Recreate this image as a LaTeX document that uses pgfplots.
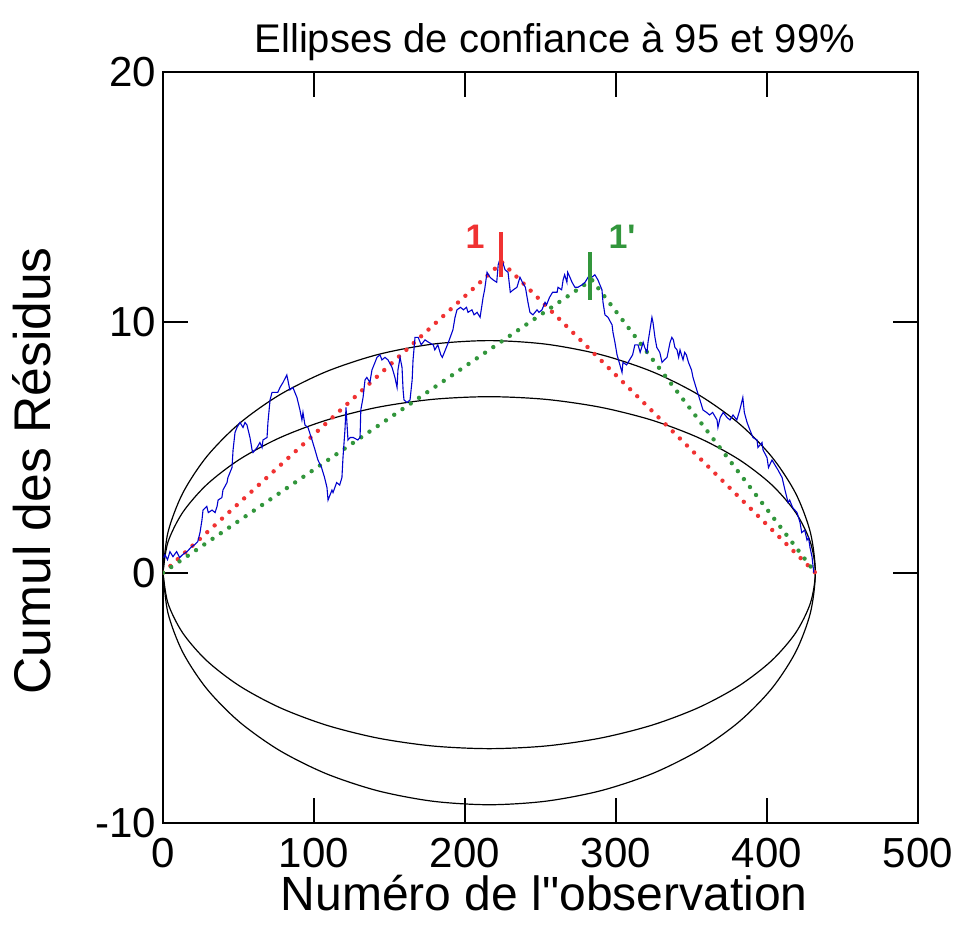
\documentclass[border=0pt]{standalone}
\usepackage{fontspec}
\setmainfont{Liberation Sans}[Ligatures=TeXOff]
\usepackage{pgfplots}
\pgfplotsset{compat=1.18}
\definecolor{cblue}{RGB}{0,0,205}
\definecolor{cred}{RGB}{240,50,50}
\definecolor{cgreen}{RGB}{50,150,60}
\begin{document}
\begin{tikzpicture}
\useasboundingbox (-81.5pt,-55.5pt) rectangle (395pt,411.5pt);
\begin{axis}[
  scale only axis, width=377.5pt, height=375.5pt,
  at={(0,0)}, anchor=south west,
  xmin=0, xmax=500, ymin=-10, ymax=20,
  xtick={0,100,200,300,400,500}, ytick={-10,0,10,20},
  tick pos=both, tick align=inside,
  major tick length=12.5pt,
  axis line style={line width=1pt},
  every tick/.style={black, line width=1pt},
  /pgf/number format/assume math mode=true,
  tick label style={font=\fontsize{21}{24}\selectfont},
  xticklabel style={yshift=-4pt},
  title={Ellipses de confiance à 95 et 99\%},
  title style={font=\fontsize{20}{24}\selectfont, at={(rel axis cs:0.519,1)}, anchor=center, yshift=9pt},
  xlabel={Numéro de l"observation},
  xlabel style={font=\fontsize{24}{28}\selectfont, at={(rel axis cs:0.505,0)}, anchor=center, yshift=-35pt},
  ylabel={Cumul des Résidus},
  ylabel style={font=\fontsize{25.8}{30}\selectfont, at={(rel axis cs:0,0.469)}, anchor=center, yshift=65.5pt},
]
% outer ellipse
\addplot[black, line width=0.6pt, smooth] coordinates {
(0,0) (3.28,1.609) (13.02,3.170) (28.94,4.635) (50.54,5.959) (77.16,7.101) (108,8.028) (142.13,8.711) (178.50,9.129) (216,9.27)
(253.50,9.129) (289.87,8.711) (324,8.028) (354.84,7.101) (381.46,5.959) (403.06,4.635) (418.98,3.170) (428.72,1.609) (432,0)
(428.72,-1.609) (418.98,-3.170) (403.06,-4.635) (381.46,-5.959) (354.84,-7.101) (324,-8.028) (289.87,-8.711) (253.50,-9.129) (216,-9.27)
(178.50,-9.129) (142.13,-8.711) (108,-8.028) (77.16,-7.101) (50.54,-5.959) (28.94,-4.635) (13.02,-3.170) (3.28,-1.609) (0,0)
};
% inner ellipse
\addplot[black, line width=0.6pt, smooth] coordinates {
(0,0) (3.28,1.220) (13.02,2.404) (28.94,3.515) (50.54,4.519) (77.16,5.385) (108,6.088) (142.13,6.606) (178.50,6.923) (216,7.03)
(253.50,6.923) (289.87,6.606) (324,6.088) (354.84,5.385) (381.46,4.519) (403.06,3.515) (418.98,2.404) (428.72,1.220) (432,0)
(428.72,-1.220) (418.98,-2.404) (403.06,-3.515) (381.46,-4.519) (354.84,-5.385) (324,-6.088) (289.87,-6.606) (253.50,-6.923) (216,-7.03)
(178.50,-6.923) (142.13,-6.606) (108,-6.088) (77.16,-5.385) (50.54,-4.519) (28.94,-3.515) (13.02,-2.404) (3.28,-1.220) (0,0)
};
% dotted segments
\addplot[cred, line width=2.2pt, line cap=round, dash pattern=on 0pt off 5pt] coordinates {(0,0) (224.5,12.4) (432,0)};
\addplot[cgreen, line width=2.2pt, line cap=round, dash pattern=on 0pt off 5pt] coordinates {(0,0) (284,11.7) (432,0)};
% cumulative residuals
\addplot[cblue, line width=0.55pt] coordinates {
(0.5,0.6) (1.3,0.72) (3,0.52) (4.6,0.84) (6.6,0.64) (9,0.84) (11,0.6) (13,0.72) (15.9,0.84) (19,1.04)
(21,1.12) (23,1.24) (24.5,1.6) (25.8,2.1) (26.5,2.5) (29,2.65) (30,2.4) (32.5,2.5) (34.5,2.4) (35.8,2.65)
(36.5,2.9) (39,3.0) (39.7,3.3) (42.4,3.6) (43,3.8) (45.7,4.2) (46.4,4.9) (47.7,5.6) (49,5.8) (51,6.0)
(53,5.8) (54.3,6.0) (55.6,5.9) (57.6,5.4) (59,4.9) (59.6,4.8) (62.3,5.0) (64.2,5.2) (65.6,5.0) (66.2,5.3)
(68.9,5.4) (69.5,6.0) (70.9,6.9) (72.2,7.2) (74,7.2) (76,7.2) (77.5,7.4) (79.5,7.6) (82,7.9) (84,7.3)
(86,7.4) (88.7,7.0) (90.7,6.5) (92,6.1) (92.7,6.4) (94,5.9) (96,5.8) (98.7,5.3) (100.7,4.9) (102.6,4.5)
(105,4.2) (107,3.8) (108.6,3.4) (109.3,2.9) (111.9,3.3) (112.6,3.2) (115,3.6) (117,3.5) (118.5,3.8) (119.2,4.6)
(120.5,5.7) (121.2,6.6) (122.5,5.3) (124,5.4) (126,5.4) (129,5.3) (130.5,5.4) (131,6.5) (132.5,7.0) (133.8,7.7)
(135,7.8) (137,7.6) (138.4,8.1) (140.4,8.4) (141.7,8.6) (143.7,8.7) (145,8.5) (147,8.6) (149,8.5) (151.7,8.2)
(153.6,7.8) (155,7.4) (155.6,8.1) (157,8.6) (158.3,8.2) (159,7.3) (159.6,6.9) (161.6,6.8) (163.6,6.9) (165,7.7)
(165.6,8.5) (166.9,9.4) (169,9.4) (171,9.1) (173.5,9.3) (176,9.2) (179,9.1) (180,8.9) (182,9.1) (184,8.7)
(185,8.6) (187,8.9) (189,9.2) (192,9.7) (193.4,10.2) (194.7,10.5) (197,10.6) (199,10.5) (201,10.6) (202,10.4)
(204.6,10.5) (206,10.3) (208,10.4) (210,10.2) (211,10.6) (212,11.0) (213,11.3) (214.6,12.0) (216.6,11.8) (218.5,11.7)
(221,11.6) (222,12.3) (223,12.5) (225,12.4) (226.5,12.1) (228.5,12.0) (230,11.2) (232,11.3) (234.4,11.4) (236.4,11.8)
(238,11.6) (240,11.4) (241.7,10.8) (243,10.4) (245,10.3) (247.7,10.5) (249,10.4) (251,10.5) (253,10.8) (254,10.7)
(256,11.0) (258,11.2) (261,11.2) (261.6,11.4) (264,11.3) (265,11.7) (266,11.9) (267.5,11.6) (268,12.0) (269.5,11.8)
(270.9,11.6) (272.8,11.4) (274.8,11.4) (277.5,11.5) (279.5,11.6) (281.5,11.8) (284,11.8) (286,11.9) (288,11.7) (290.7,11.3)
(291.4,10.8) (292.7,10.3) (294.7,10.2) (297.4,9.9) (298,9.6) (299.3,9.2) (300.7,8.7) (302.6,8.3) (304,8.0) (304.6,8.4)
(307,8.3) (309,8.5) (311,8.7) (312.5,9.1) (314.6,9.1) (316,8.8) (318,9.2) (319,9.0) (320.5,8.8) (321.2,9.2)
(322.5,9.7) (323.8,10.2) (324.5,10.0) (325.8,9.4) (327,9.0) (329,8.8) (330.5,8.4) (332,8.5) (333.8,8.6) (335.8,9.2)
(337,9.4) (338,9.3) (339,9.0) (340.4,8.9) (341.5,8.6) (342.4,8.9) (344.4,8.5) (345.5,8.8) (346.6,8.7) (348,8.4)
(350,8.1) (351,7.8) (352,7.6) (354,7.2) (355.6,6.9) (357.6,6.5) (360,6.4) (362,6.3) (364,6.4) (366.9,6.1)
(367.5,5.8) (369,6.2) (371,6.4) (373.5,6.2) (375.5,6.1) (377.5,6.3) (380,6.1) (382,6.5) (384,7.0) (385,6.4)
(386.8,6.0) (388.7,5.7) (390.7,5.4) (393.4,5.3) (394,5.0) (396.7,5.2) (397.4,4.9) (400,4.6) (401,4.2) (403.3,4.5)
(405.3,4.3) (407.3,4.1) (410,3.8) (411.9,3.3) (414,2.8) (415,2.9) (417,2.6) (419.9,2.4) (421.9,2.0) (423,1.6)
(425,1.7) (426.5,1.3) (427.5,1.4) (428.5,1.0) (429.8,0.64) (431,0)
};
% break markers
\addplot[cred, line width=2pt] coordinates {(224,11.8) (224,13.6)};
\addplot[cgreen, line width=2pt] coordinates {(283,10.9) (283,12.8)};
\node[text=cred, font=\fontsize{17}{20}\selectfont\bfseries] at (axis cs:206.6,13.4) {1};
\node[text=cgreen, font=\fontsize{17}{20}\selectfont\bfseries] at (axis cs:304,13.4) {1'};
\end{axis}
\end{tikzpicture}
\end{document}
